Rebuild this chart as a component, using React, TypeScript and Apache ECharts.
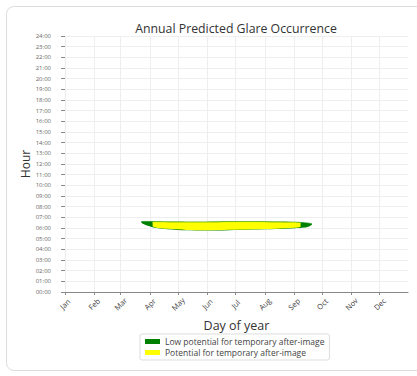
import React, { useEffect, useRef } from "react";
import * as echarts from "echarts";

const MONTHS = ["Jan", "Feb", "Mar", "Apr", "May", "Jun", "Jul", "Aug", "Sep", "Oct", "Nov", "Dec"];
const MONTH_START_DAY = [1, 32, 60, 91, 121, 152, 182, 213, 244, 274, 305, 335];
const DAYS_IN_YEAR = 365;

// Low potential (green) band: day of year, start hour, end hour
const LOW_DAYS = [82, 86, 94, 110, 130, 150, 175, 200, 225, 245, 255, 260, 263];
const LOW_START = [6.5, 6.3, 6.08, 5.88, 5.78, 5.76, 5.8, 5.85, 5.9, 5.98, 6.05, 6.15, 6.3];
const LOW_END = [6.6, 6.62, 6.6, 6.58, 6.57, 6.57, 6.6, 6.6, 6.58, 6.55, 6.5, 6.45, 6.4];

// Potential (yellow) band
const POT_DAYS = [94, 100, 110, 130, 150, 175, 200, 225, 245, 251];
const POT_START = [6.15, 6.0, 5.92, 5.82, 5.8, 5.84, 5.89, 5.94, 6.02, 6.1];
const POT_END = [6.55, 6.56, 6.55, 6.54, 6.54, 6.56, 6.57, 6.55, 6.51, 6.46];

const LOW_NAME = "Low potential for temporary after-image";
const POT_NAME = "Potential for temporary after-image";

const FONT = "Open Sans";

export default function App() {
  const ref = useRef<HTMLDivElement>(null);
  useEffect(() => {
    if (!ref.current) return;
    const chart = echarts.init(ref.current, null, { renderer: "svg" });
    const categories = Array.from({ length: DAYS_IN_YEAR }, (_, i) => String(i + 1));
    const monthIdx = MONTH_START_DAY.map((d) => d - 1);
    const isMonth = (i: number) => monthIdx.indexOf(i) >= 0;
    const bandSeries = (name: string, stack: string, days: number[], lo: number[], hi: number[], color: string) => [
      {
        name: name + "_base",
        type: "line",
        stack,
        data: days.map((d, i) => [d - 1, lo[i]]),
        symbol: "none",
        smooth: 0.3,
        lineStyle: { opacity: 0 },
        areaStyle: { opacity: 0 },
        silent: true,
      },
      {
        name,
        type: "line",
        stack,
        data: days.map((d, i) => [d - 1, hi[i] - lo[i]]),
        symbol: "none",
        smooth: 0.3,
        itemStyle: { color },
        lineStyle: { width: 0.6, color },
        areaStyle: { color, opacity: 1 },
      },
    ];
    chart.setOption({
      animation: false,
      textStyle: { fontFamily: FONT },
      title: {
        text: "Annual Predicted Glare Occurrence",
        left: 231,
        textAlign: "center",
        top: 17,
        textStyle: { fontSize: 12.3, fontWeight: "normal", color: "#333", fontFamily: FONT },
      },
      grid: { left: 65, right: 9, top: 36, bottom: 84 },
      legend: {
        data: [LOW_NAME, POT_NAME],
        orient: "vertical",
        left: 140,
        top: 334,
        padding: [3, 5, 3, 5],
        itemWidth: 15,
        itemHeight: 5,
        itemGap: 2,
        icon: "rect",
        borderColor: "#ddd",
        borderWidth: 1,
        borderRadius: 2,
        textStyle: { fontSize: 8.5, color: "#444", fontFamily: FONT },
      },
      xAxis: {
        type: "category",
        data: categories,
        boundaryGap: false,
        name: "Day of year",
        nameLocation: "middle",
        nameGap: 27,
        nameMoveOverlap: false,
        nameTextStyle: { fontSize: 12.5, color: "#333", fontFamily: FONT },
        axisLine: { lineStyle: { color: "#888", width: 1 } },
        axisTick: { show: true, length: 3, interval: (i: number) => isMonth(i), lineStyle: { color: "#888" } },
        axisLabel: {
          interval: (i: number) => isMonth(i),
          formatter: (_v: string, i: number) => MONTHS[monthIdx.indexOf(i)] ?? "",
          rotate: 45,
          align: "center",
          margin: 12,
          fontSize: 7.5,
          color: "#444",
          fontFamily: FONT,
        },
        splitLine: { show: true, interval: (i: number) => isMonth(i), lineStyle: { color: "#eee", width: 1 } },
      },
      yAxis: {
        type: "value",
        min: 0,
        max: 24,
        interval: 1,
        name: "Hour",
        nameLocation: "middle",
        nameGap: 34,
        nameMoveOverlap: false,
        nameTextStyle: { fontSize: 12, color: "#333", fontFamily: FONT },
        axisLine: { show: false },
        axisTick: { show: true, length: 4, lineStyle: { color: "#888" } },
        axisLabel: {
          formatter: (v: number) => String(v).padStart(2, "0") + ":00",
          fontSize: 6,
          color: "#666",
          margin: 14,
          fontFamily: FONT,
        },
        splitLine: { show: true, lineStyle: { color: "#eee", width: 1 } },
      },
      series: [
        ...bandSeries(LOW_NAME, "low", LOW_DAYS, LOW_START, LOW_END, "#008000"),
        ...bandSeries(POT_NAME, "pot", POT_DAYS, POT_START, POT_END, "#ffff00"),
      ],
    });
    return () => chart.dispose();
  }, []);
  return (
    <div style={{ position: "fixed", left: 0, top: 0, width: 417, height: 376, background: "#fff", overflow: "hidden" }}>
      <div
        style={{
          position: "absolute",
          left: 6,
          top: 6,
          width: 420,
          height: 365,
          border: "1px solid #ddd",
          borderRadius: 8,
          boxSizing: "border-box",
        }}
      />
      <div ref={ref} style={{ position: "absolute", left: 0, top: 0, width: 417, height: 376 }} />
    </div>
  );
}
